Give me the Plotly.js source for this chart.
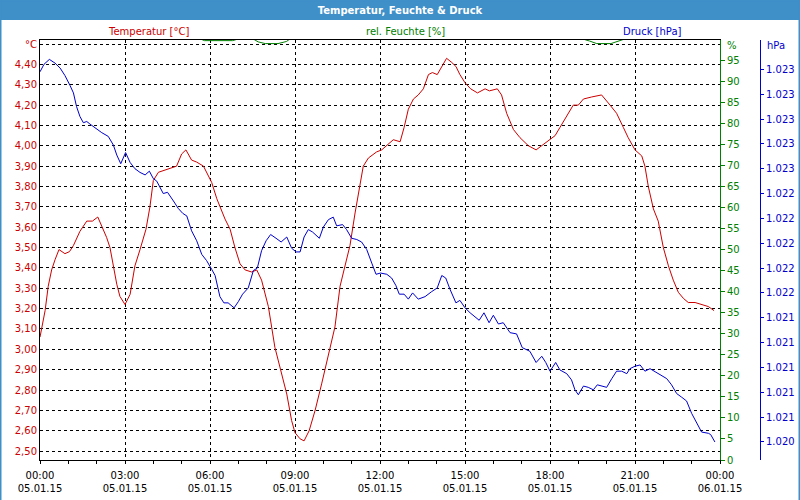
<!DOCTYPE html>
<html>
<head>
<meta charset="utf-8">
<script src="https://cdn.plot.ly/plotly-3.0.1.min.js"></script>
<style>html,body{margin:0;padding:0;background:#fff;}#chart{width:800px;height:500px;}</style>
</head>
<body>
<div id="chart"></div>
<script>
// ---- data (hours since 05.01.15 00:00) ----
const tempHours = [0.00,0.18,0.29,0.41,0.53,0.67,0.88,1.04,1.18,1.41,1.65,1.85,2.04,2.24,2.35,2.47,2.59,2.71,2.82,3.00,3.18,3.35,3.53,3.74,3.88,4.00,4.18,4.41,4.65,4.82,5.00,5.15,5.35,5.53,5.77,5.88,6.06,6.24,6.35,6.53,6.71,6.88,7.06,7.24,7.47,7.65,7.82,8.06,8.29,8.53,8.71,8.88,9.00,9.18,9.32,9.50,9.71,9.94,10.18,10.41,10.59,10.76,10.94,11.12,11.27,11.41,11.59,11.88,12.06,12.24,12.47,12.71,12.85,13.00,13.18,13.35,13.53,13.71,13.85,14.02,14.18,14.35,14.53,14.68,14.82,15.00,15.20,15.44,15.71,15.86,16.14,16.29,16.47,16.71,16.94,17.24,17.51,17.71,18.00,18.18,18.35,18.59,18.82,19.00,19.18,19.47,19.82,20.12,20.35,20.59,20.76,21.00,21.24,21.35,21.47,21.65,21.82,22.00,22.18,22.35,22.53,22.71,22.88,23.12,23.35,23.59,23.79];
const tempValues = [3.06,3.19,3.31,3.39,3.44,3.49,3.47,3.48,3.51,3.58,3.63,3.63,3.65,3.59,3.55,3.50,3.41,3.32,3.26,3.22,3.27,3.41,3.49,3.59,3.70,3.83,3.87,3.88,3.89,3.90,3.96,3.98,3.93,3.92,3.90,3.87,3.82,3.74,3.70,3.64,3.59,3.50,3.42,3.39,3.38,3.39,3.34,3.21,3.01,2.87,2.78,2.65,2.59,2.56,2.55,2.60,2.70,2.83,2.98,3.11,3.31,3.41,3.51,3.67,3.80,3.90,3.94,3.97,3.98,4.00,4.03,4.02,4.09,4.18,4.23,4.25,4.28,4.35,4.36,4.35,4.39,4.43,4.41,4.39,4.35,4.31,4.28,4.26,4.28,4.27,4.28,4.25,4.16,4.08,4.04,4.00,3.98,4.00,4.03,4.05,4.09,4.15,4.20,4.20,4.23,4.24,4.25,4.20,4.16,4.09,4.04,3.98,3.95,3.90,3.80,3.69,3.63,3.50,3.41,3.34,3.28,3.25,3.23,3.23,3.22,3.21,3.19];

const humHours = [0.00,5.70,5.80,6.80,6.95,7.55,7.70,7.95,8.40,8.70,8.80,19.20,19.40,19.65,20.15,20.45,20.60,23.82];
const humValues = [100,100,99.7,99.7,100,100,99.4,99.0,99.0,99.5,100,100,99.6,99.0,99.0,99.6,100,100];

const pressHours = [0.00,0.14,0.33,0.53,0.71,0.88,1.06,1.18,1.29,1.41,1.53,1.65,1.76,1.94,2.18,2.41,2.59,2.71,2.85,3.02,3.18,3.35,3.53,3.71,3.86,4.00,4.12,4.35,4.50,4.71,4.88,5.04,5.18,5.35,5.53,5.71,5.88,6.06,6.18,6.35,6.49,6.64,6.85,7.00,7.15,7.35,7.53,7.67,7.82,7.98,8.14,8.33,8.51,8.71,8.88,9.04,9.18,9.32,9.47,9.62,9.86,10.00,10.18,10.35,10.47,10.68,10.82,11.00,11.18,11.35,11.53,11.71,11.86,12.02,12.24,12.41,12.56,12.68,12.85,13.00,13.15,13.35,13.59,13.82,14.02,14.18,14.32,14.47,14.68,14.82,15.00,15.18,15.35,15.50,15.67,15.85,16.00,16.18,16.35,16.59,16.82,17.02,17.29,17.51,17.71,17.85,18.00,18.20,18.35,18.59,18.76,18.88,19.00,19.18,19.35,19.53,19.67,19.82,20.00,20.18,20.35,20.53,20.71,20.82,21.00,21.18,21.35,21.53,21.68,21.88,22.12,22.29,22.47,22.65,22.82,23.00,23.18,23.35,23.59,23.67,23.82];
const pressValues = [1023.38,1023.44,1023.48,1023.45,1023.41,1023.35,1023.27,1023.21,1023.10,1023.02,1022.97,1022.98,1022.96,1022.93,1022.89,1022.86,1022.79,1022.71,1022.64,1022.73,1022.65,1022.60,1022.57,1022.55,1022.58,1022.52,1022.50,1022.40,1022.41,1022.34,1022.28,1022.24,1022.22,1022.10,1022.02,1021.91,1021.86,1021.79,1021.74,1021.57,1021.52,1021.52,1021.48,1021.53,1021.59,1021.64,1021.78,1021.80,1021.94,1022.02,1022.07,1022.04,1022.01,1022.05,1021.96,1021.93,1021.93,1022.05,1022.11,1022.09,1022.04,1022.13,1022.19,1022.21,1022.14,1022.15,1022.11,1022.04,1022.03,1022.01,1021.95,1021.84,1021.75,1021.76,1021.75,1021.72,1021.66,1021.59,1021.59,1021.55,1021.60,1021.55,1021.57,1021.61,1021.64,1021.74,1021.72,1021.63,1021.52,1021.54,1021.48,1021.44,1021.41,1021.38,1021.44,1021.36,1021.42,1021.35,1021.36,1021.28,1021.27,1021.16,1021.13,1021.04,1021.09,1021.04,1020.97,1021.04,1020.98,1020.95,1020.90,1020.82,1020.78,1020.85,1020.84,1020.82,1020.86,1020.85,1020.84,1020.91,1020.97,1020.97,1020.95,1020.99,1021.01,1021.02,1020.97,1020.99,1020.97,1020.94,1020.91,1020.86,1020.79,1020.76,1020.73,1020.63,1020.55,1020.48,1020.47,1020.46,1020.40];

// ---- ticks ----
const timeTicks = [0,3,6,9,12,15,18,21,24];
const timeLabels = ["00:00<br>05.01.15","03:00<br>05.01.15","06:00<br>05.01.15","09:00<br>05.01.15","12:00<br>05.01.15","15:00<br>05.01.15","18:00<br>05.01.15","21:00<br>05.01.15","00:00<br>06.01.15"];
const tempTicks = [2.5,2.6,2.7,2.8,2.9,3.0,3.1,3.2,3.3,3.4,3.5,3.6,3.7,3.8,3.9,4.0,4.1,4.2,4.3,4.4,4.5];
const tempLabels = ["2,50","2,60","2,70","2,80","2,90","3,00","3,10","3,20","3,30","3,40","3,50","3,60","3,70","3,80","3,90","4,00","4,10","4,20","4,30","4,40","°C"];
const humTicks = [0,5,10,15,20,25,30,35,40,45,50,55,60,65,70,75,80,85,90,95];
const pressTicks = [1020.4,1020.6,1020.8,1021.0,1021.2,1021.4,1021.6,1021.8,1022.0,1022.2,1022.4,1022.6,1022.8,1023.0,1023.2,1023.4];

const FONT = "DejaVu Sans, Verdana, sans-serif";
const RED = "#cc0000", GREEN = "#008000", BLUE = "#0000cc", BAR = "#3f8fc9";

const traces = [
  {x: humHours, y: humValues, yaxis: "y2", type: "scatter", mode: "lines", line: {color: GREEN, width: 1}, hoverinfo: "skip"},
  {x: tempHours, y: tempValues, yaxis: "y", type: "scatter", mode: "lines", line: {color: RED, width: 1}, hoverinfo: "skip"},
  {x: pressHours, y: pressValues, yaxis: "y3", type: "scatter", mode: "lines", line: {color: BLUE, width: 1}, hoverinfo: "skip"}
];

const layout = {
  width: 800, height: 500,
  margin: {l: 40, r: 40, t: 40, b: 40, pad: 0},
  paper_bgcolor: "#ffffff", plot_bgcolor: "#ffffff",
  showlegend: false,
  separators: ",.",
  font: {family: FONT, size: 10, color: "#000"},
  title: {text: "Temperatur, Feuchte & Druck", font: {family: FONT, size: 10, color: "#ffffff", weight: "bold"},
          x: 0.5, xref: "container", xanchor: "center", y: 0.98, yref: "container", yanchor: "middle"},
  xaxis: {
    domain: [0, 680/720], range: [0, 24],
    tickmode: "array", tickvals: timeTicks, ticktext: timeLabels,
    ticks: "", ticklabelstandoff: 6, showgrid: true, gridcolor: "#000", gridwidth: 1, griddash: "3px,3px",
    showline: true, mirror: true, linecolor: "#000", linewidth: 1, zeroline: false,
    tickfont: {family: FONT, size: 10, color: "#000"},
    minor: {tickmode: "linear", tick0: 0, dtick: 1, ticks: "outside", ticklen: 3, tickcolor: "#000", showgrid: false}
  },
  yaxis: {
    range: [2.456, 4.520],
    tickmode: "array", tickvals: tempTicks, ticktext: tempLabels,
    ticks: "", showgrid: true, gridcolor: "#000", gridwidth: 1, griddash: "3px,3px",
    showline: true, linecolor: "#000", linewidth: 1, zeroline: false,
    tickfont: {family: FONT, size: 10, color: RED}
  },
  yaxis2: {
    overlaying: "y", side: "right", anchor: "x", range: [0, 99.85],
    tickmode: "array", tickvals: humTicks,
    ticks: "outside", ticklen: 4, tickcolor: GREEN, showgrid: false, zeroline: false,
    showline: true, linecolor: GREEN, linewidth: 1,
    tickfont: {family: FONT, size: 10, color: GREEN}
  },
  yaxis3: {
    overlaying: "y", side: "right", anchor: "free", position: 1, range: [1020.255, 1023.636],
    tickmode: "array", tickvals: pressTicks, tickformat: ",.0f",
    ticks: "outside", ticklen: 3, tickcolor: BLUE, showgrid: false, zeroline: false,
    showline: true, linecolor: BLUE, linewidth: 1,
    tickfont: {family: FONT, size: 10, color: BLUE}
  },
  shapes: [
    {type: "rect", xref: "paper", yref: "paper", x0: -0.06, x1: 1.06, y0: 1 + 20/420, y1: 1.1, fillcolor: BAR, line: {width: 0}, layer: "above"},
    {type: "rect", xref: "paper", yref: "paper", x0: -40/720, x1: 1 + 40/720, y0: -460/420, y1: 1 + 40/420, fillcolor: "rgba(0,0,0,0)", line: {color: BAR, width: 3}, layer: "above"}
  ],
  annotations: [
    {text: "Temperatur [°C]", xref: "paper", yref: "paper", x: 108/720, y: 1 + 8.5/420, xanchor: "center", yanchor: "middle", showarrow: false, font: {family: FONT, size: 10, color: RED}},
    {text: "rel. Feuchte [%]", xref: "paper", yref: "paper", x: 365/720, y: 1 + 8.5/420, xanchor: "center", yanchor: "middle", showarrow: false, font: {family: FONT, size: 10, color: GREEN}},
    {text: "Druck [hPa]", xref: "paper", yref: "paper", x: 612/720, y: 1 + 8.5/420, xanchor: "center", yanchor: "middle", showarrow: false, font: {family: FONT, size: 10, color: BLUE}},
    {text: "%", xref: "paper", yref: "paper", x: 685/720, y: 1 - 5.5/420, xanchor: "left", yanchor: "middle", showarrow: false, font: {family: FONT, size: 10, color: GREEN}},
    {text: "hPa", xref: "paper", yref: "paper", x: 725/720, y: 1 - 5.5/420, xanchor: "left", yanchor: "middle", showarrow: false, font: {family: FONT, size: 10, color: BLUE}}
  ]
};

Plotly.newPlot("chart", traces, layout, {staticPlot: true, displayModeBar: false});
</script>
</body>
</html>
